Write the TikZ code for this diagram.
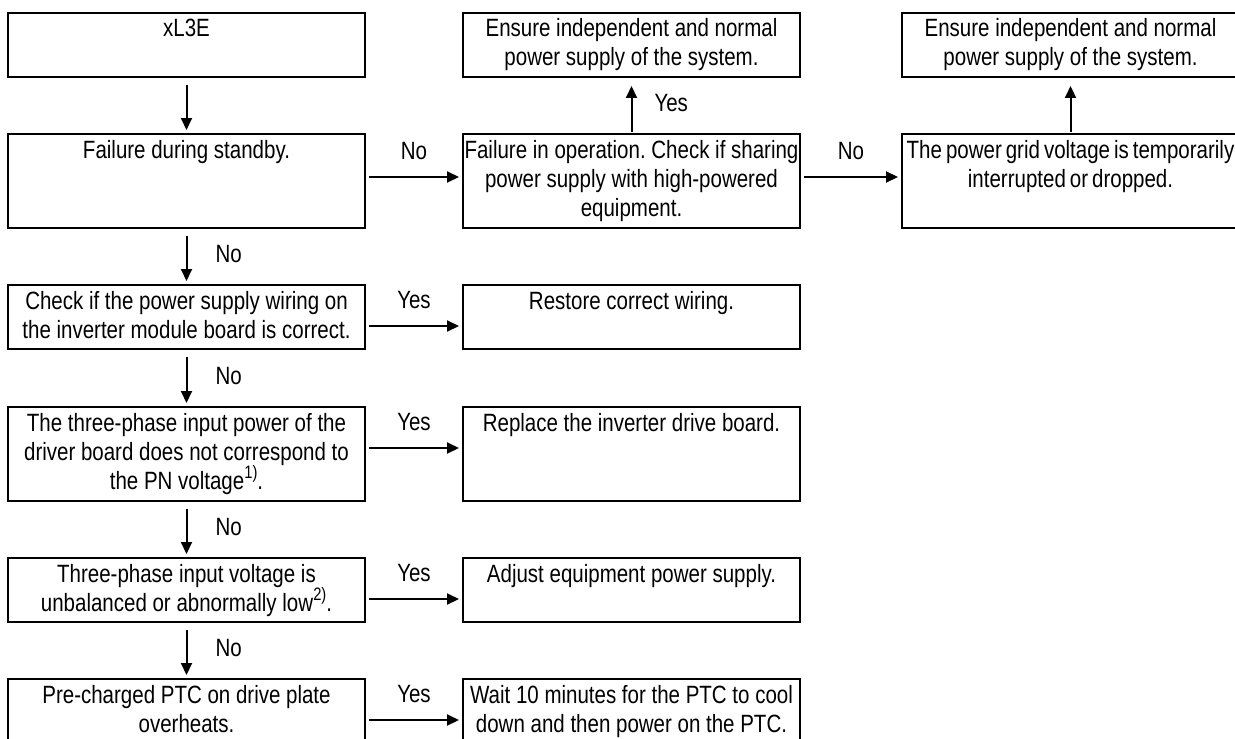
\documentclass[tikz,border=0pt]{standalone}
\usepackage{fontspec}
\IfFontExistsTF{Liberation Sans Narrow}
  {\setmainfont{Liberation Sans Narrow}}
  {\setmainfont[FakeStretch=0.82]{Liberation Sans}}
\usetikzlibrary{arrows.meta}
\hyphenpenalty=10000
\frenchspacing
\newcommand\fnmark[1]{\raisebox{0.42em}{\fontsize{9}{9}\selectfont #1}}

\begin{document}
\begin{tikzpicture}[
    x=0.5pt, y=-0.5pt,
    >={Triangle[length=6pt, width=5.5pt]},
    line width=1pt,
    font=\fontsize{12.5}{14.5}\selectfont,
    every node/.style={inner sep=0pt},
    box/.style={draw, rectangle, anchor=north, align=flush center, inner xsep=-6pt, inner ysep=2pt, text height=10pt},
    lbox/.style={box, minimum width=178.5pt, text width=190.5pt},
    mbox/.style={box, minimum width=168.5pt, text width=180.5pt},
    tight/.style={execute at begin node={\spaceskip=2pt plus 1pt\relax}},
    two/.style={text depth=18pt},
    three/.style={text depth=33pt},
    down/.style={->, shorten <=3.5pt, shorten >=1.5pt},
    up/.style={->, shorten <=0.5pt, shorten >=4pt},
    side/.style={->, shorten <=1.5pt, shorten >=1.5pt},
    lbl/.style={text height=8.6pt, text depth=2.5pt}
]
  \useasboundingbox (0,0) rectangle (1235,738);

  % nodes
  \node[lbox, two]   (start)   at (186.5,12)  {xL3E};
  \node[mbox, two]   (ens1)    at (631.5,12)  {Ensure independent and normal\\power supply of the system.};
  \node[mbox, two]   (ens2)    at (1070.5,12) {Ensure independent and normal\\power supply of the system.};

  \node[lbox, three] (standby) at (186.5,133) {Failure during standby.};
  \node[mbox, three] (oper)    at (631.5,133) {Failure in operation. Check if sharing\\power supply with high-powered\\equipment.};
  \node[mbox, three, tight] (grid) at (1070.5,133) {The power grid voltage is temporarily\\interrupted or dropped.};

  \node[lbox, two]   (wiring)  at (186.5,284) {Check if the power supply wiring on\\the inverter module board is correct.};
  \node[mbox, two]   (restore) at (631.5,284) {Restore correct wiring.};

  \node[lbox, three] (phase)   at (186.5,406) {The three-phase input power of the\\driver board does not correspond to\\the PN voltage\fnmark{1)}.};
  \node[mbox, three] (replace) at (631.5,406) {Replace the inverter drive board.};

  \node[lbox, two]   (unbal)   at (186.5,557) {Three-phase input voltage is\\unbalanced or abnormally low\fnmark{2)}.};
  \node[mbox, two]   (adjust)  at (631.5,557) {Adjust equipment power supply.};

  \node[lbox, two]   (ptc)     at (186.5,678) {Pre-charged PTC on drive plate\\overheats.};
  \node[mbox, two]   (wait)    at (631.5,678) {Wait 10 minutes for the PTC to cool\\down and then power on the PTC.};

  % edges
  \draw[down] (start) -- (standby);
  \draw[down] (standby) -- node[lbl, midway, right=14pt] {No} (wiring);
  \draw[down] (wiring) -- node[lbl, midway, right=14pt] {No} (phase);
  \draw[down] (phase) -- node[lbl, midway, right=14pt] {No} (unbal);
  \draw[down] (unbal) -- node[lbl, midway, right=14pt] {No} (ptc);

  \draw[up] (oper) -- node[lbl, midway, right=11pt] {Yes} (ens1);
  \draw[up] (grid) -- (ens2);

  \draw[side] ([yshift=-22pt]standby.north east) -- node[lbl, midway, above=6pt] {No} ([yshift=-22pt]oper.north west);
  \draw[side] ([yshift=-22pt]oper.north east) -- node[lbl, midway, above=6pt] {No} ([yshift=-22pt]grid.north west);
  \draw[side] ([yshift=-21pt]wiring.north east) -- node[lbl, midway, above=6pt] {Yes} ([yshift=-21pt]restore.north west);
  \draw[side] ([yshift=-21pt]phase.north east) -- node[lbl, midway, above=6pt] {Yes} ([yshift=-21pt]replace.north west);
  \draw[side] ([yshift=-21pt]unbal.north east) -- node[lbl, midway, above=6pt] {Yes} ([yshift=-21pt]adjust.north west);
  \draw[side] ([yshift=-21pt]ptc.north east) -- node[lbl, midway, above=6pt] {Yes} ([yshift=-21pt]wait.north west);
\end{tikzpicture}
\end{document}
